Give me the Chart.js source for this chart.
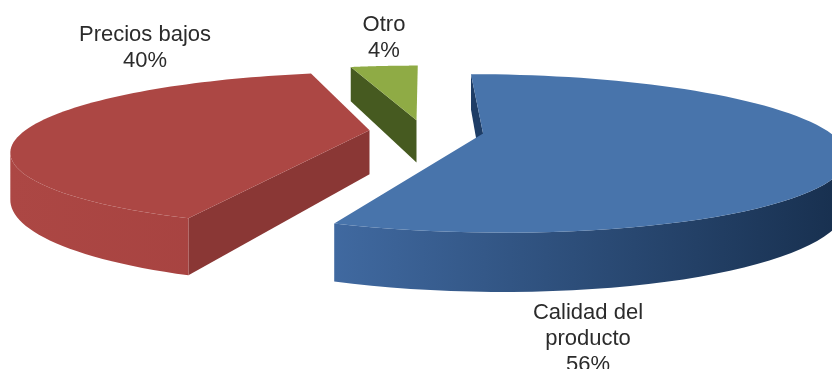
<!DOCTYPE html>
<html>
<head>
<meta charset="utf-8">
<title>Pie</title>
<script src="https://cdn.jsdelivr.net/npm/chart.js@4"></script>
<style>
  html, body { margin: 0; padding: 0; background: #fff; overflow: hidden; }
  canvas { display: block; filter: blur(0.5px); }
</style>
</head>
<body>
<canvas id="grafica" width="832" height="369"></canvas>
<script>
const categorias = ["Calidad del producto", "Precios bajos", "Otro"];
const valores = [56, 40, 4];
const coloresTapa = ["#4874AB", "#AC4744", "#8FAB45"];
const coloresCorte = ["#1E3D66", "#8A3735", "#465A20"];
const coloresBordeIni = ["#4069A0", "#AC4744", "#465A20"];
const coloresBordeFin = ["#172F4E", "#A5413F", "#465A20"];

// lineas de cada etiqueta y donde va
const etiquetas = [
  { lineas: ["Calidad del", "producto", "56%"], x: 588, y: 319 },
  { lineas: ["Precios bajos", "40%"], x: 145, y: 41 },
  { lineas: ["Otro", "4%"], x: 384, y: 31 },
];

// perspectiva del plano de la torta
const persp = { cx: 423, cy: 131, rx: 345, ky: 73, p: 0.25, alto: 44 };

function proyectar(X, V, abajo) {
  const s = 1 / (1 - persp.p * V);
  return {
    x: persp.cx + persp.rx * X * s,
    y: persp.cy + persp.ky * V * s + (abajo ? persp.alto * s : 0),
  };
}

function poligono(ctx, puntos, relleno) {
  ctx.beginPath();
  puntos.forEach((q, i) => (i ? ctx.lineTo(q.x, q.y) : ctx.moveTo(q.x, q.y)));
  ctx.closePath();
  ctx.fillStyle = relleno;
  ctx.fill();
}

const torta3d = {
  id: "torta3d",
  beforeDatasetDraw(chart) {
    const ctx = chart.ctx;
    const arcos = chart.getDatasetMeta(0).data;
    arcos.forEach((arco, i) => {
      const R = arco.outerRadius;
      const medio = (arco.startAngle + arco.endAngle) / 2;
      const sep = arco.options.offset / 4 / R;
      const ox = Math.cos(medio) * sep;
      const oy = Math.sin(medio) * sep;

      const angulos = [];
      const n = 80;
      for (let j = 0; j <= n; j++) {
        angulos.push(arco.startAngle + ((arco.endAngle - arco.startAngle) * j) / n);
      }
      const arriba = angulos.map((a) => proyectar(ox + Math.cos(a), oy + Math.sin(a), false));
      const c1 = proyectar(ox, oy, false);
      const c2 = proyectar(ox, oy, true);
      const a0 = angulos[0];

      // pared del corte inicial (la del final queda tapada)
      poligono(ctx, [c1, arriba[0], proyectar(ox + Math.cos(a0), oy + Math.sin(a0), true), c2], coloresCorte[i]);

      // pared curva: desde el punto mas bajo mientras x siga bajando hacia la izquierda,
      // si no el poligono se dobla y deja un hueco
      const xs = arriba.map((q) => q.x);
      const ys = arriba.map((q) => q.y);
      let lo = ys.indexOf(Math.max(...ys));
      let hi = lo;
      while (lo > 0 && xs[lo - 1] > xs[lo]) lo--;
      while (hi < n && xs[hi + 1] < xs[hi]) hi++;
      if (hi > lo) {
        const frente = angulos.slice(lo, hi + 1);
        const sup = frente.map((a) => proyectar(ox + Math.cos(a), oy + Math.sin(a), false));
        const inf = frente.map((a) => proyectar(ox + Math.cos(a), oy + Math.sin(a), true));
        // en angulo creciente x baja, por eso el degradado va de derecha a izquierda
        const grad = ctx.createLinearGradient(Math.min(...xs), 0, Math.max(...xs), 0);
        grad.addColorStop(0, coloresBordeIni[i]);
        grad.addColorStop(1, coloresBordeFin[i]);
        poligono(ctx, sup.concat(inf.reverse()), grad);
      }

      // tapa
      poligono(ctx, [c1].concat(arriba), coloresTapa[i]);
    });
    return false;
  },
  afterDatasetsDraw(chart) {
    const ctx = chart.ctx;
    ctx.save();
    ctx.font = '22px "Liberation Sans", Arial, sans-serif';
    ctx.fillStyle = "#2b2b2b";
    ctx.textAlign = "center";
    etiquetas.forEach((et) => {
      et.lineas.forEach((linea, k) => ctx.fillText(linea, et.x, et.y + k * 26));
    });
    ctx.restore();
  },
};

new Chart(document.getElementById("grafica"), {
  type: "pie",
  data: {
    labels: categorias,
    datasets: [
      {
        data: valores,
        backgroundColor: coloresTapa,
        borderWidth: 0,
        offset: [96, 85, 85],
      },
    ],
  },
  options: {
    responsive: false,
    animation: false,
    plugins: {
      legend: { display: false },
      tooltip: { enabled: false },
    },
  },
  plugins: [torta3d],
});
</script>
</body>
</html>
